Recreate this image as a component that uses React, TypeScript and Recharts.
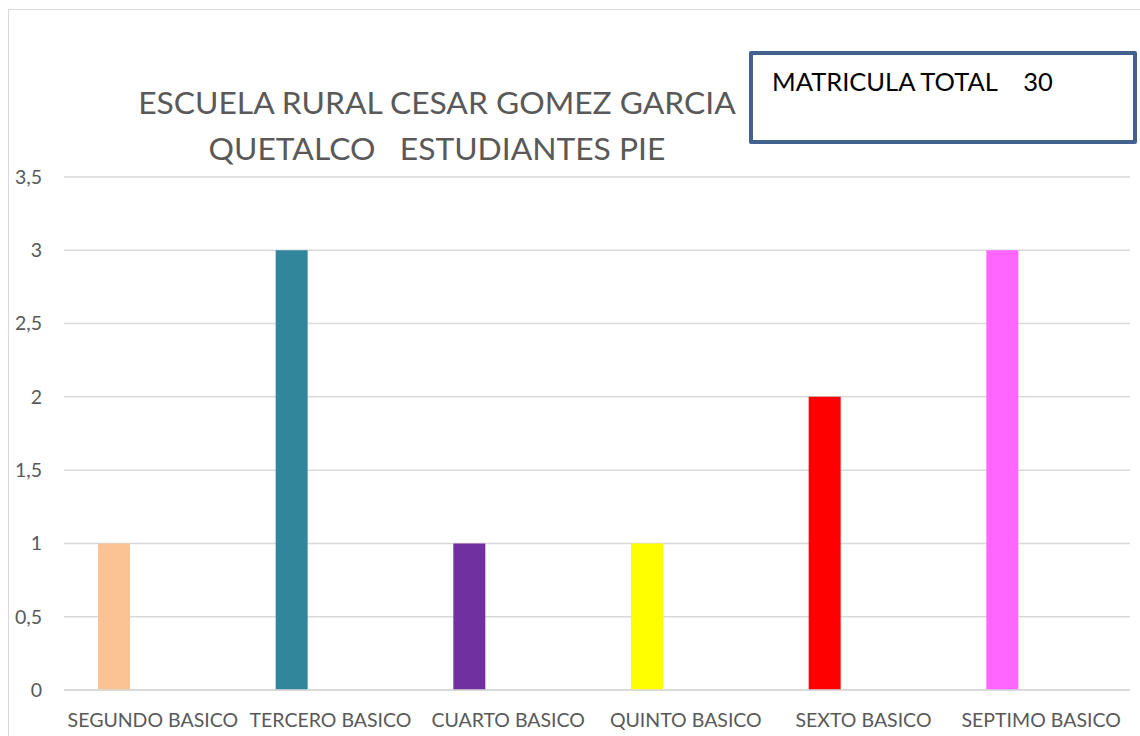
import { BarChart, Bar, XAxis, YAxis, CartesianGrid, Cell } from 'recharts';

const cursos = ['SEGUNDO BASICO', 'TERCERO BASICO', 'CUARTO BASICO', 'QUINTO BASICO', 'SEXTO BASICO', 'SEPTIMO BASICO'];
const estudiantesPie = [1, 3, 1, 1, 2, 3];
const coloresCurso = ['#F9C393', '#31869B', '#7030A0', '#FFFF00', '#FF0000', '#FF66FF'];
const yTicks = [0, 0.5, 1, 1.5, 2, 2.5, 3, 3.5];
const tituloLineas = ['ESCUELA RURAL CESAR GOMEZ GARCIA', 'QUETALCO   ESTUDIANTES PIE'];
const matricula = { label: 'MATRICULA TOTAL', total: 30 };

const data = cursos.map((name, i) => ({ name, value: estudiantesPie[i] }));

const font = 'Lato, "Open Sans", sans-serif';

export default function App() {
  return (
    <div style={{ position: 'absolute', left: 0, top: 0, width: 1140, height: 736, overflow: 'hidden', background: '#fff', fontFamily: font }}>
      <div style={{ position: 'absolute', left: 8, top: 9, width: 1300, height: 900, border: '1.5px solid #D9D9D9' }} />
      <BarChart
        width={1140}
        height={736}
        data={data}
        margin={{ top: 177, right: 10, bottom: 10, left: 0 }}
        barSize={32}
        barGap={7}
        style={{ position: 'absolute', left: 0, top: 0 }}
      >
        <CartesianGrid vertical={false} stroke="#D9D9D9" strokeWidth={1.5} />
        <XAxis
          dataKey="name"
          height={36}
          axisLine={{ stroke: '#D9D9D9', strokeWidth: 1.5 }}
          tickLine={false}
          interval={0}
          tickMargin={17}
          tick={{ fill: '#595959', fontSize: 19.5, fontFamily: font }}
        />
        <YAxis
          width={64}
          domain={[0, 3.5]}
          ticks={yTicks}
          axisLine={false}
          tickLine={false}
          tickMargin={16}
          tickFormatter={(v: number) => String(v).replace('.', ',')}
          tick={{ fill: '#595959', fontSize: 19.5, fontFamily: font }}
        />
        <Bar dataKey="value" isAnimationActive={false}>
          {data.map((d, i) => (
            <Cell key={d.name} fill={coloresCurso[i]} />
          ))}
        </Bar>
        <Bar dataKey="s2" isAnimationActive={false} />
        <Bar dataKey="s3" isAnimationActive={false} />
      </BarChart>
      <div style={{ position: 'absolute', left: 0, width: 874, top: 79, textAlign: 'center', color: '#595959', fontSize: 31.8, lineHeight: '46px' }}>
        {tituloLineas.map((t) => (
          <div key={t} style={{ whiteSpace: 'pre' }}>{t}</div>
        ))}
      </div>
      <div style={{ position: 'absolute', left: 749, top: 51, width: 380, height: 85, border: '4px solid #41628F', borderRadius: 2, background: '#fff' }}>
        <div style={{ position: 'absolute', left: 19, top: 11, fontSize: 25.5, color: '#000', whiteSpace: 'pre' }}>
          {`${matricula.label}    ${matricula.total}`}
        </div>
      </div>
    </div>
  );
}
